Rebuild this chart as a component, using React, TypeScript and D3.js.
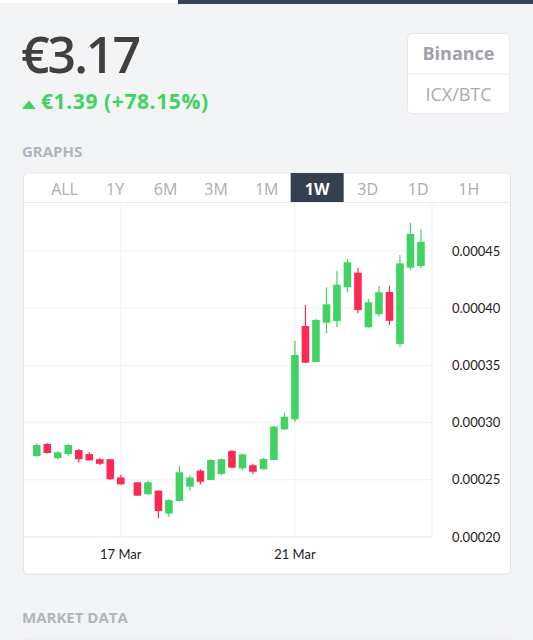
import React from 'react';
import * as d3 from 'd3';

// ICX/BTC candles, prices in 1e-5 BTC
const UNIT = 1e-5;
const hours = [0, 6, 12, 18, 24, 30, 36, 42, 48, 57.5, 63.5, 69.5, 75.5, 81.5, 87.5, 93.5, 99.5, 105.5, 111.5, 117.5, 123.5, 129.5, 135.5, 141.5, 147.5, 153.5, 159.5, 165.5, 171.5, 177.5, 183.5, 189.5, 195.5, 201.5, 207.5, 213.5, 219.5];
const opens = [27.08, 28.13, 26.9, 27.25, 27.6, 27.25, 26.8, 26.8, 25.2, 24.78, 23.73, 24.05, 22.05, 23.15, 24.4, 25.8, 24.98, 25.5, 27.52, 26.0, 26.27, 25.92, 26.73, 29.41, 30.29, 38.44, 35.3, 38.73, 38.88, 41.83, 43.1, 38.33, 39.47, 41.42, 36.87, 43.54, 43.69];
const highs = [28.2, 28.2, 27.5, 28.1, 27.7, 27.4, 26.9, 26.8, 25.45, 24.8, 24.92, 24.1, 23.3, 26.23, 25.4, 25.92, 26.8, 26.85, 27.6, 27.3, 26.4, 26.9, 29.7, 30.87, 37.16, 40.28, 39.05, 41.83, 43.25, 44.3, 43.54, 40.8, 41.94, 41.97, 44.65, 47.47, 46.92];
const lows = [27.0, 27.3, 26.8, 27.1, 26.5, 26.7, 26.3, 25.0, 24.6, 23.6, 23.7, 21.63, 21.75, 23.1, 24.05, 24.6, 24.95, 25.4, 26.0, 25.86, 25.48, 25.9, 26.7, 29.35, 30.08, 35.2, 35.3, 37.8, 38.33, 41.39, 39.55, 38.3, 39.26, 38.55, 36.63, 43.34, 43.49];
const closes = [28.04, 27.34, 27.4, 28.04, 26.8, 26.7, 26.4, 25.05, 24.6, 23.61, 24.78, 22.27, 23.23, 25.66, 25.2, 24.83, 26.73, 26.8, 26.06, 27.23, 25.7, 26.82, 29.64, 30.52, 35.91, 35.24, 38.97, 40.34, 42.05, 44.01, 39.84, 40.52, 41.39, 38.9, 43.92, 46.49, 45.81];

const yTicks = [0.0002, 0.00025, 0.0003, 0.00035, 0.0004, 0.00045];
const xTickHours = [48, 147.5];
const xTickLabels = ['17 Mar', '21 Mar'];
const tabs = ['ALL', '1Y', '6M', '3M', '1M', '1W', '3D', '1D', '1H'];
const activeTab = '1W';

const GREEN = '#42d264';
const RED = '#fb2a55';
const UI_FONT = '"Open Sans", sans-serif';
const AXIS_FONT = 'Lato, sans-serif';

const App: React.FC = () => {
  const plot = { left: 24, right: 432, top: 203, bottom: 537 };
  const x = d3.scaleLinear().domain([-7.3, 225.8]).range([plot.left, plot.right]);
  const y = d3.scaleLinear().domain([0.0002, 0.00045]).range([537, 251]);
  const tabX = d3.scaleBand<string>().domain(tabs).range([39.3, 494]);
  const fmt = d3.format('.5f');
  const bodyW = 7.6;

  const candles = hours.map((h, i) => ({
    h,
    o: opens[i] * UNIT,
    hi: highs[i] * UNIT,
    lo: lows[i] * UNIT,
    c: closes[i] * UNIT,
  }));

  return (
    <svg width={533} height={640} style={{ position: 'absolute', left: 0, top: 0, background: '#f3f4f6' }}>
      <rect x={0} y={0} width={533} height={640} fill="#f3f4f6" />
      {/* top nav strip */}
      <rect x={0} y={0} width={178} height={3} fill="#ffffff" />
      <rect x={178} y={0} width={355} height={4} fill="#394356" />

      {/* price header */}
      <text x={21} y={73} fontFamily={UI_FONT} fontWeight={600} fontSize={50} letterSpacing={-2} fill="#404040">€3.17</text>
      <path d="M22,109 L36,109 L29,100.5 Z" fill={GREEN} />
      <text x={41} y={109} fontFamily={UI_FONT} fontWeight={700} fontSize={21} letterSpacing={0.6} fill={GREEN}>€1.39 (+78.15%)</text>

      {/* exchange box */}
      <rect x={407.5} y={33.5} width={102} height={80} rx={4} fill="#ffffff" stroke="#e6e8eb" />
      <line x1={408} x2={509} y1={74} y2={74} stroke="#e6e8eb" />
      <text x={458.5} y={60} textAnchor="middle" fontFamily={UI_FONT} fontWeight={700} fontSize={18} fill="#9ea2ab">Binance</text>
      <text x={458.5} y={101} textAnchor="middle" fontFamily={UI_FONT} fontSize={18} fill="#a6aab2">ICX/BTC</text>

      <text x={22} y={157} fontFamily={UI_FONT} fontWeight={700} fontSize={15} fill="#b1b5be">GRAPHS</text>

      {/* chart card */}
      <rect x={23.5} y={174} width={487} height={401} rx={4} fill="#e9ebee" />
      <rect x={23.5} y={173} width={487} height={401} rx={4} fill="#ffffff" stroke="#e4e6ea" />

      {tabs.map((t) => {
        const cx = (tabX(t) ?? 0) + tabX.bandwidth() / 2;
        const active = t === activeTab;
        return (
          <g key={t}>
            {active && <rect x={cx - 26.5} y={173} width={53} height={29.5} fill="#343f50" />}
            <text x={cx} y={195} textAnchor="middle" fontFamily={UI_FONT} fontWeight={active ? 700 : 400} fontSize={16} fill={active ? '#ffffff' : '#a9adb4'}>{t}</text>
          </g>
        );
      })}
      <line x1={24} x2={510} y1={202.5} y2={202.5} stroke="#e8e9ec" />

      {/* grid */}
      {yTicks.map((v) => (
        <line key={v} x1={plot.left} x2={plot.right} y1={y(v)} y2={y(v)} stroke="#f0f1f3" />
      ))}
      {xTickHours.map((h) => (
        <line key={h} x1={x(h)} x2={x(h)} y1={plot.top} y2={plot.bottom} stroke="#f0f1f3" />
      ))}
      <line x1={plot.right} x2={plot.right} y1={plot.top} y2={plot.bottom} stroke="#eceef0" />
      <line x1={plot.left} x2={plot.right} y1={plot.bottom} y2={plot.bottom} stroke="#eceef0" />

      {/* candles */}
      {candles.map((d) => {
        const up = d.c >= d.o;
        const col = up ? GREEN : RED;
        const top = y(Math.max(d.o, d.c));
        const bot = y(Math.min(d.o, d.c));
        return (
          <g key={d.h}>
            <line x1={x(d.h)} x2={x(d.h)} y1={y(d.hi)} y2={y(d.lo)} stroke={col} strokeWidth={1.2} />
            <rect x={x(d.h) - bodyW / 2} y={top} width={bodyW} height={Math.max(1, bot - top)} fill={col} />
          </g>
        );
      })}

      {/* axes labels */}
      {yTicks.map((v) => (
        <text key={v} x={452} y={y(v)} dy="0.35em" fontFamily={AXIS_FONT} fontSize={13} fill="#222">{fmt(v)}</text>
      ))}
      {xTickHours.map((h, i) => (
        <text key={h} x={x(h)} y={559} textAnchor="middle" fontFamily={AXIS_FONT} fontSize={13} fill="#222">{xTickLabels[i]}</text>
      ))}

      <text x={22} y={623} fontFamily={UI_FONT} fontWeight={700} fontSize={15} fill="#b1b5be">MARKET DATA</text>
      <rect x={23.5} y={639} width={487} height={40} rx={4} fill="#ffffff" stroke="#e4e6ea" />
    </svg>
  );
};

export default App;
